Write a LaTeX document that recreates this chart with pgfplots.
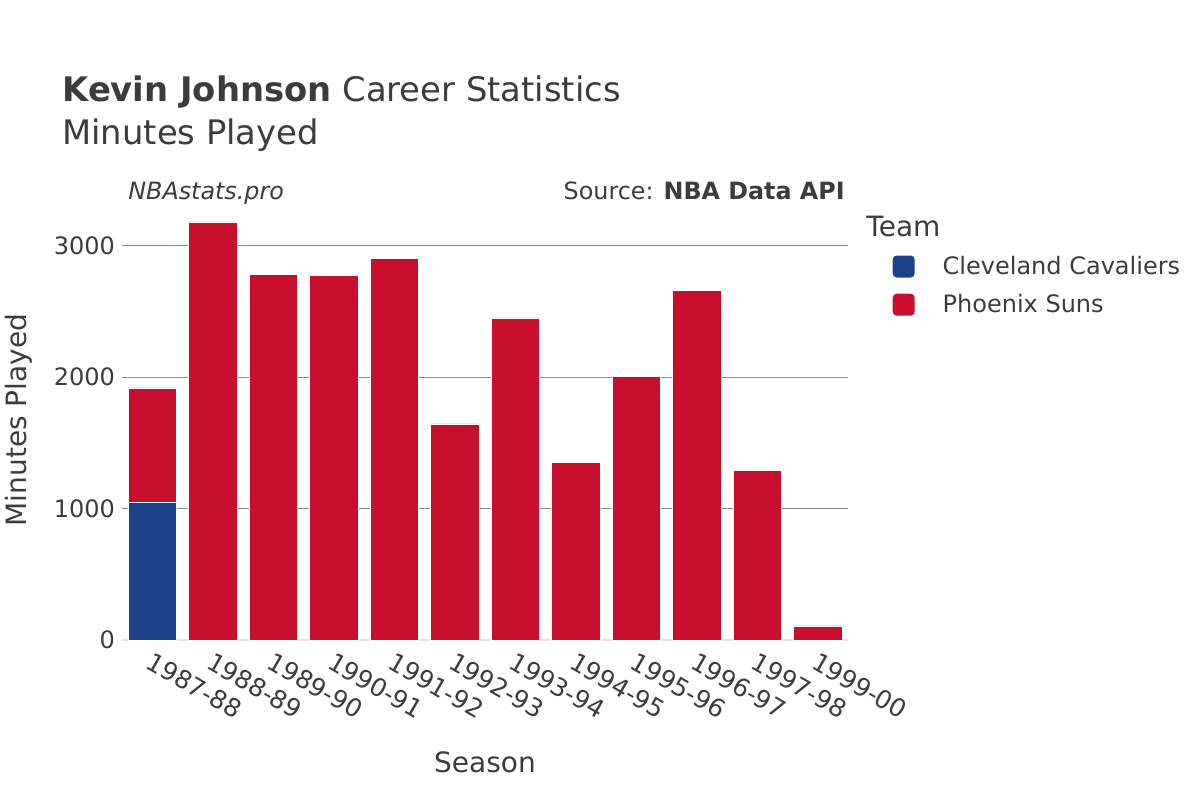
\documentclass[border=0pt]{standalone}
\usepackage{pgfplots}
\pgfplotsset{compat=1.18}
\usepackage{fontspec}
\setmainfont{DejaVu Sans}
\definecolor{cle}{HTML}{1D428A}
\definecolor{phx}{HTML}{C8102E}
\definecolor{txt}{HTML}{3C3C3C}
\definecolor{gridc}{HTML}{8C8C8C}
\definecolor{basec}{HTML}{E3E3E3}
\begin{document}
\begin{tikzpicture}
\path[use as bounding box] (0,0) rectangle (600pt,400pt);
\node[anchor=base west, text=txt, font=\fontsize{16.9}{20}\selectfont, inner sep=0] at (31pt,349pt) {\textbf{Kevin Johnson} Career Statistics};
\node[anchor=base west, text=txt, font=\fontsize{16.9}{20}\selectfont, inner sep=0] at (31pt,327.5pt) {Minutes Played};
\node[anchor=base west, text=txt, font=\fontsize{11.9}{14}\selectfont\itshape, inner sep=0] at (64pt,300.5pt) {NBAstats.pro};
\node[anchor=base east, text=txt, font=\fontsize{11.9}{14}\selectfont, inner sep=0] at (422.5pt,300.5pt) {Source: \textbf{NBA Data API}};
\node[anchor=base west, text=txt, font=\fontsize{14}{16}\selectfont, inner sep=0] at (433pt,282pt) {Team};
\begin{axis}[
  at={(61pt,80pt)}, anchor=south west,
  scale only axis, width=363pt, height=220pt,
  ybar stacked, bar width=0.8,
  xmin=-0.5, xmax=11.5, ymin=0, ymax=3346,
  xtick={0,...,11},
  xticklabels={1987-88,1988-89,1989-90,1990-91,1991-92,1992-93,1993-94,1994-95,1995-96,1996-97,1997-98,1999-00},
  xticklabel style={rotate=-30, anchor=north west, text=txt, font=\fontsize{12.5}{14}\selectfont, xshift=0pt, yshift=-1pt},
  ytick={0,1000,2000,3000},
  yticklabel style={text=txt, font=\fontsize{12}{14}\selectfont},
  /pgf/number format/assume math mode=true,
  /pgf/number format/1000 sep={},
  ymajorgrids, major grid style={gridc, line width=0.5pt},
  axis x line*=bottom, axis y line*=left,
  x axis line style={basec, line width=1pt, -},
  y axis line style={draw=none},
  major tick length=0pt,
  xlabel={Season}, ylabel={Minutes Played},
  xlabel style={text=txt, font=\fontsize{14}{16}\selectfont, yshift=-8pt},
  ylabel style={text=txt, font=\fontsize{14}{16}\selectfont, yshift=4pt},
  legend style={at={(1.061,0.883)}, anchor=north west, draw=none, fill=none,
    font=\fontsize{12}{14}\selectfont, text=txt, row sep=4.5pt,
    cells={anchor=west}, inner sep=0pt},
  legend cell align=left,
  legend image code/.code={\fill[#1, draw=none, rounded corners=2pt] (0pt,-5.5pt) rectangle (11pt,5.5pt);},
  clip=false,
]
\addplot+[fill=cle, draw=white, line width=0.4pt] coordinates {(0,1043) (1,0) (2,0) (3,0) (4,0) (5,0) (6,0) (7,0) (8,0) (9,0) (10,0) (11,0)};
\addlegendentry{\hspace{12pt}Cleveland Cavaliers}
\addplot+[fill=phx, draw=white, line width=0.4pt] coordinates {(0,874) (1,3179) (2,2782) (3,2772) (4,2899) (5,1643) (6,2449) (7,1352) (8,2007) (9,2658) (10,1290) (11,107)};
\addlegendentry{\hspace{12pt}Phoenix Suns}
\end{axis}
\end{tikzpicture}
\end{document}
